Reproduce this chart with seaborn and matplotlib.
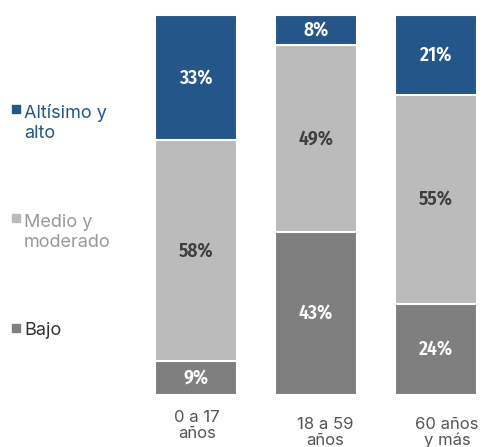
import matplotlib
matplotlib.use("Agg")
import matplotlib.pyplot as plt
import matplotlib.transforms as mtransforms
import seaborn as sns
import pandas as pd

# Population groups and risk-level shares (%)
groups = ["0 a 17\naños", "18 a 59\naños", "60 años\ny más"]
bajo = [9, 43, 24]
medio = [58, 49, 55]
alto = [33, 8, 21]
levels = ["Altísimo y\nalto", "Medio y\nmoderado", "Bajo"]

c_alto = "#25568A"
c_medio = "#BBBBBB"
c_bajo = "#7F7F7F"

sns.set_theme(style="white")
plt.rcParams["font.family"] = ["Inter", "DejaVu Sans"]

df = pd.DataFrame({"grupo": groups, "bajo": bajo, "medio": medio, "alto": alto})
df["top_medio"] = df["bajo"] + df["medio"]
df["top_alto"] = df["top_medio"] + df["alto"]

W, H = 484, 447
fig = plt.figure(figsize=(W / 100, H / 100), dpi=100)
ax = fig.add_axes([136 / W, (H - 395) / H, 348 / W, 380 / H])

# Stacked bars: draw cumulative totals from back to front
for col, color in [("top_alto", c_alto), ("top_medio", c_medio), ("bajo", c_bajo)]:
    sns.barplot(data=df, x="grupo", y=col, color=color, width=0.69,
                edgecolor="white", linewidth=1.5, saturation=1, ax=ax)

ax.set_xlim(-0.5, 2.4)
ax.set_ylim(0, 100)
ax.set_xlabel("")
ax.set_ylabel("")
ax.set_yticks([])
sns.despine(ax=ax, left=True, bottom=True)
ax.tick_params(axis="x", length=0, pad=11, labelsize=12, labelcolor="#555555")
for lab in ax.get_xticklabels():
    lab.set_linespacing(1.05)

# Slight stagger of the category labels
offsets = [(1, 0), (9, -7), (11, -7)]
for lab, (dx, dy) in zip(ax.get_xticklabels(), offsets):
    lab.set_transform(lab.get_transform() +
                      mtransforms.ScaledTranslation(dx / 100, dy / 100, fig.dpi_scale_trans))

# Value labels
num_font = dict(family=["Fira Sans Condensed", "DejaVu Sans"], fontweight=600, fontsize=14)
for i in range(len(groups)):
    ax.text(i, bajo[i] / 2, f"{bajo[i]}%", ha="center", va="center", color="white", **num_font)
    ax.text(i, bajo[i] + medio[i] / 2, f"{medio[i]}%", ha="center", va="center", color="#3F3F3F", **num_font)
    ax.text(i, bajo[i] + medio[i] + alto[i] / 2, f"{alto[i]}%", ha="center", va="center", color="white", **num_font)

# Legend on the left: baseline of last line (px from top) and square centre
legend_base = [138, 247, 335]
legend_sq = [109, 218, 328]
legend_text_col = [c_alto, "#999999", "#333333"]
legend_sq_col = [c_alto, c_medio, c_bajo]
for lvl, yb, ys, tc, sc in zip(levels, legend_base, legend_sq, legend_text_col, legend_sq_col):
    fig.patches.append(plt.Rectangle((12 / W, 1 - (ys + 4) / H), 8 / W, 8 / H,
                                     transform=fig.transFigure, color=sc))
    fig.text(24 / W, 1 - yb / H, lvl, ha="left", va="baseline",
             fontsize=13, color=tc, linespacing=1.2)

fig.savefig("out.png", dpi=100)
